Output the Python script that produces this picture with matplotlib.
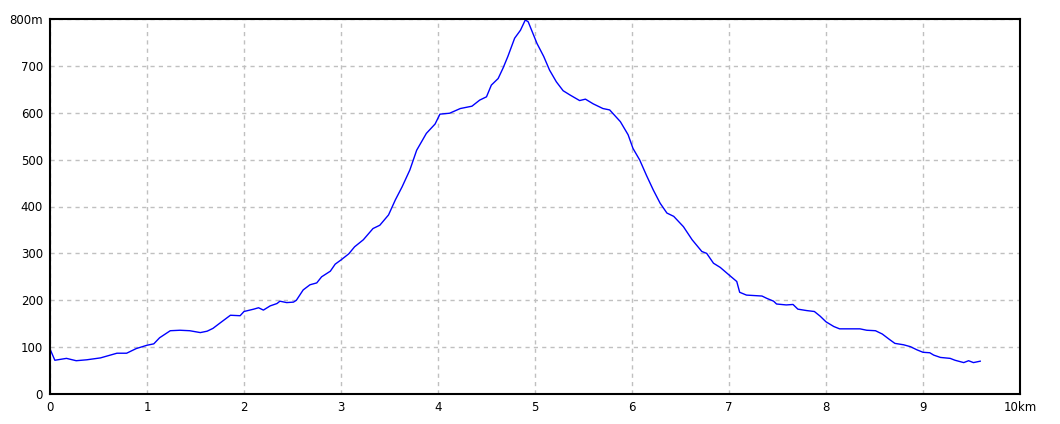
"""Elevation profile along a hiking route."""

import matplotlib

matplotlib.use("Agg")

import matplotlib.pyplot as plt
from matplotlib.ticker import FuncFormatter

dist_km = [
    0.0, 0.05, 0.17, 0.27, 0.38, 0.52, 0.69, 0.79, 0.89, 1.0,
    1.07, 1.13, 1.24, 1.34, 1.44, 1.55, 1.62, 1.68, 1.75, 1.86,
    1.96, 2.0, 2.10, 2.15, 2.20, 2.27, 2.34, 2.37, 2.44, 2.51,
    2.54, 2.61, 2.68, 2.75, 2.80, 2.89, 2.94, 3.0, 3.08, 3.14,
    3.23, 3.33, 3.40, 3.49, 3.56, 3.63, 3.71, 3.78, 3.88, 3.97,
    4.02, 4.12, 4.23, 4.35, 4.43, 4.50, 4.55, 4.62, 4.67, 4.72,
    4.79, 4.85, 4.90, 4.93, 5.02, 5.09, 5.15, 5.22, 5.29, 5.36,
    5.46, 5.52, 5.60, 5.70, 5.77, 5.88, 5.96, 6.01, 6.08, 6.15,
    6.22, 6.29, 6.36, 6.43, 6.53, 6.62, 6.72, 6.77, 6.84, 6.91,
    7.0, 7.08, 7.11, 7.18, 7.34, 7.39, 7.46, 7.49, 7.59, 7.66,
    7.71, 7.80, 7.88, 7.94, 8.0, 8.08, 8.14, 8.35, 8.42, 8.51,
    8.58, 8.65, 8.71, 8.80, 8.87, 8.94, 9.0, 9.07, 9.11, 9.18,
    9.28, 9.33, 9.42, 9.47, 9.52, 9.59,
]
elev_m = [
    96, 72, 76, 71, 73, 77, 87, 87, 97, 104,
    107, 120, 135, 136, 135, 131, 134, 140, 151, 168,
    167, 176, 181, 184, 179, 188, 193, 198, 195, 196,
    200, 222, 233, 237, 250, 262, 277, 286, 299, 314,
    329, 353, 360, 382, 414, 442, 478, 520, 556, 576,
    597, 599, 609, 614, 627, 634, 659, 673, 695, 720,
    759, 776, 798, 794, 748, 720, 691, 666, 647, 638,
    626, 629, 619, 609, 606, 581, 553, 524, 499, 466,
    435, 407, 386, 379, 357, 329, 304, 300, 279, 270,
    254, 240, 217, 211, 209, 204, 198, 192, 190, 191,
    181, 178, 176, 166, 154, 144, 139, 139, 136, 135,
    128, 117, 108, 105, 101, 94, 89, 88, 83, 78,
    76, 72, 67, 71, 67, 70,
]

x_ticks = list(range(0, 11))
y_ticks = list(range(0, 801, 100))


def _x_label(v, _pos):
    return "10km" if v >= 10 else f"{v:.0f}"


def _y_label(v, _pos):
    return "800m" if v >= 800 else f"{v:.0f}"


fig = plt.figure(figsize=(10.6, 4.24), dpi=100)
ax = fig.add_axes([50 / 1060, 1 - 394 / 424, 970 / 1060, 375 / 424])

ax.plot(dist_km, elev_m, color="#0000ff", linewidth=1.0)

ax.set_xlim(0, 10)
ax.set_ylim(0, 800)
ax.set_xticks(x_ticks)
ax.set_yticks(y_ticks)
ax.xaxis.set_major_formatter(FuncFormatter(_x_label))
ax.yaxis.set_major_formatter(FuncFormatter(_y_label))
ax.tick_params(length=0, labelsize=8.5, pad=5, colors="black")
ax.grid(True, color="#c0c0c0", linestyle=(0, (3, 3)), linewidth=1.0)
ax.set_axisbelow(True)
for spine in ax.spines.values():
    spine.set_color("black")
    spine.set_linewidth(1.5)

fig.savefig("out.png", dpi=100)
plt.close(fig)
